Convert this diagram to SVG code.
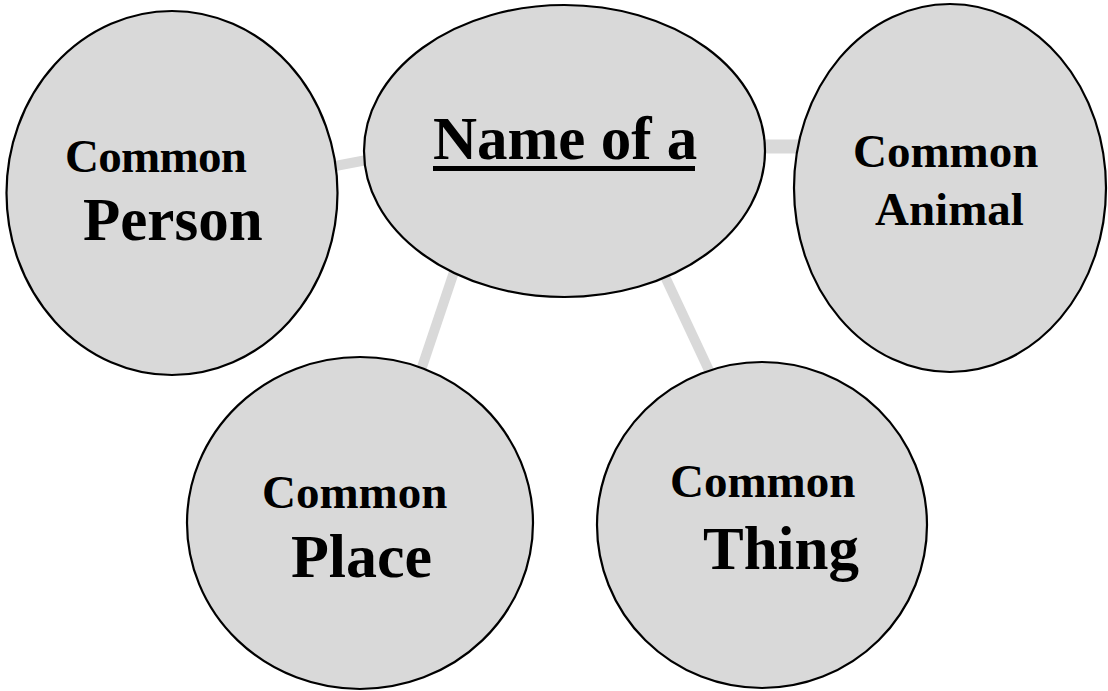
<svg xmlns="http://www.w3.org/2000/svg" width="1108" height="691" viewBox="0 0 1108 691">
<style>
.node{fill:#d9d9d9;stroke:#000;stroke-width:2.2}
.conn{stroke:#d9d9d9;stroke-width:10;fill:none}
text{font-family:"Liberation Serif","Times New Roman",serif;font-weight:bold;fill:#000}
.s{font-size:47px}
.l{font-size:61px}
</style>
<rect width="1108" height="691" fill="#fff"/>
<g id="connectors">
<line class="conn" x1="330" y1="167" x2="372" y2="159"/>
<line class="conn" x1="760" y1="146.5" x2="800" y2="146.5" style="stroke-width:14"/>
<line class="conn" x1="456" y1="266" x2="420" y2="373"/>
<line class="conn" x1="661" y1="268" x2="713" y2="379"/>
</g>
<g id="person">
<ellipse class="node" cx="172" cy="193" rx="165.5" ry="182"/>
<text class="s" x="65" y="172" textLength="182">Common</text>
<text class="l" x="83" y="240">Person</text>
</g>
<g id="animal">
<ellipse class="node" cx="950" cy="188" rx="156" ry="184"/>
<text class="s" x="853" y="167">Common</text>
<text class="s" x="875" y="225">Animal</text>
</g>
<g id="place">
<ellipse class="node" cx="360" cy="523" rx="173" ry="166"/>
<text class="s" x="262" y="508">Common</text>
<text class="l" x="291" y="577" style="font-size:62px">Place</text>
</g>
<g id="thing">
<ellipse class="node" cx="762" cy="525" rx="165" ry="163"/>
<text class="s" x="670" y="497">Common</text>
<text class="l" x="703" y="569">Thing</text>
</g>
<g id="center">
<ellipse class="node" cx="564.5" cy="151" rx="200.5" ry="146"/>
<text x="433" y="159" style="font-size:61px">Name of a</text>
<rect x="433" y="166" width="262" height="5" fill="#000"/>
</g>
</svg>
